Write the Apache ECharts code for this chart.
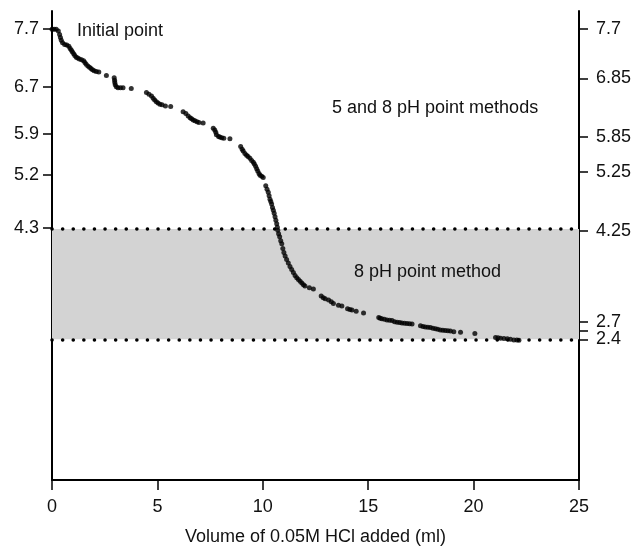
<!DOCTYPE html>
<html>
<head>
<meta charset="utf-8">
<script src="https://cdn.jsdelivr.net/npm/echarts@6/dist/echarts.min.js"></script>
<style>
html,body{margin:0;padding:0;background:#fff;}
#chart{width:635px;height:551px;}
</style>
</head>
<body>
<div id="chart"></div>
<script>
// Volume of 0.05M HCl added (ml)
const volume = [
  0.0, 0.1, 0.2, 0.3, 0.36, 0.4, 0.44, 0.5, 0.6, 0.7, 0.8, 0.86, 0.92, 0.97, 1.03, 1.08, 1.15, 1.22, 1.3, 1.4,
  1.5, 1.56, 1.62, 1.7, 1.78, 1.85, 1.92, 2.0, 2.1, 2.22, 2.58, 2.95, 2.97, 2.98, 3.0, 3.05, 3.13, 3.25, 3.37, 3.76,
  4.48, 4.6, 4.72, 4.8, 4.87, 4.95, 5.03, 5.12, 5.22, 5.38, 5.63,
  6.22, 6.35, 6.46, 6.55, 6.62, 6.7, 6.78, 6.88, 6.97, 7.17,
  7.65, 7.72, 7.77, 7.8, 7.9, 7.96, 8.05, 8.15, 8.44,
  8.95, 9.02, 9.07, 9.15, 9.23, 9.3, 9.39, 9.47, 9.55, 9.6, 9.66, 9.71, 9.76, 9.82, 9.87, 9.95, 10.02,
  10.14, 10.2, 10.26, 10.3, 10.34, 10.38, 10.42, 10.46, 10.5, 10.54, 10.58, 10.62, 10.66, 10.69, 10.71, 10.75,
  10.8, 10.85, 10.9, 10.95, 11.0, 11.06, 11.13, 11.21, 11.29, 11.37, 11.45, 11.53, 11.61, 11.69, 11.77, 11.85,
  11.93, 12.0, 12.21, 12.4, 12.77, 12.87, 12.96, 13.12, 13.25, 13.35, 13.59, 13.75, 14.02, 14.13, 14.23, 14.43,
  14.78, 15.5, 15.57, 15.65, 15.77, 15.89, 16.01, 16.13, 16.25, 16.37, 16.49, 16.6, 16.72, 16.84, 16.96, 17.08,
  17.48, 17.6, 17.71, 17.83, 17.95, 18.07, 18.19, 18.3, 18.42, 18.54, 18.66, 18.78, 18.9, 19.06, 19.38, 20.06,
  21.04, 21.16, 21.28, 21.44, 21.6, 21.75, 21.91, 22.05, 22.15
];
// pH
const pH = [
  7.69, 7.69, 7.69, 7.66, 7.6, 7.55, 7.5, 7.46, 7.43, 7.42, 7.4, 7.36, 7.33, 7.3, 7.27, 7.24, 7.21, 7.2, 7.18, 7.17,
  7.15, 7.12, 7.09, 7.06, 7.04, 7.02, 7.0, 6.98, 6.97, 6.96, 6.9, 6.86, 6.82, 6.78, 6.74, 6.71, 6.69, 6.69, 6.69, 6.68,
  6.61, 6.58, 6.55, 6.51, 6.48, 6.45, 6.43, 6.41, 6.4, 6.38, 6.37,
  6.28, 6.25, 6.21, 6.18, 6.16, 6.14, 6.13, 6.11, 6.1, 6.09,
  6.0, 5.97, 5.93, 5.89, 5.86, 5.85, 5.84, 5.83, 5.82,
  5.69, 5.64, 5.61, 5.57, 5.54, 5.52, 5.49, 5.45, 5.42, 5.39, 5.35, 5.31, 5.27, 5.23, 5.2, 5.18, 5.16,
  5.02, 4.96, 4.91, 4.85, 4.79, 4.75, 4.71, 4.65, 4.6, 4.55, 4.49, 4.43, 4.37, 4.31, 4.26, 4.2,
  4.15, 4.08, 4.03, 3.95, 3.88, 3.82, 3.76, 3.7, 3.64, 3.59, 3.54, 3.49, 3.45, 3.42, 3.39, 3.36,
  3.33, 3.31, 3.28, 3.26, 3.14, 3.11, 3.09, 3.07, 3.04, 3.01, 2.98, 2.97, 2.92, 2.91, 2.9, 2.88,
  2.85, 2.77, 2.76, 2.75, 2.74, 2.73, 2.725, 2.72, 2.7, 2.69, 2.685, 2.68, 2.675, 2.67, 2.665, 2.66,
  2.63, 2.62, 2.61, 2.605, 2.6, 2.59, 2.58, 2.57, 2.56, 2.555, 2.55, 2.545, 2.54, 2.53, 2.52, 2.5,
  2.43, 2.425, 2.42, 2.415, 2.41, 2.4, 2.39, 2.39, 2.385
];
const leftTicks = [7.7, 6.7, 5.9, 5.2, 4.3];
const rightTickMarks = [7.7, 6.85, 5.85, 5.25, 4.25, 2.7, 2.55, 2.4];
const rightTickLabels = [7.7, 6.85, 5.85, 5.25, 4.25, 2.4];
const rightExtraLabels = [2.7];
const bandLimits = [2.4, 4.28];
const annotations = ['Initial point', '5 and 8 pH point methods', '8 pH point method'];
const xTitle = 'Volume of 0.05M HCl added (ml)';

const FONT = 'Liberation Sans, Arial, sans-serif';
const chart = echarts.init(document.getElementById('chart'), null, {renderer: 'canvas'});
const points = volume.map((v, i) => [v, pH[i]]);
const axisCommon = {
  type: 'value', min: 0, max: 8,
  splitLine: {show: false},
  axisLine: {show: true, onZero: false, lineStyle: {color: '#000', width: 2}},
  axisTick: {show: true, length: 9, lineStyle: {color: '#000', width: 1.5}}
};
const labelCommon = {fontFamily: FONT, fontSize: 18, color: '#111', hideOverlap: false, showMinLabel: true, showMaxLabel: true};
chart.setOption({
  animation: false,
  backgroundColor: '#fff',
  grid: {left: 52, right: 56, top: 11, bottom: 65},
  xAxis: {
    type: 'value', min: 0, max: 25, interval: 5,
    name: xTitle, nameLocation: 'middle', nameGap: 48,
    nameTextStyle: {fontFamily: FONT, fontSize: 18, color: '#111'},
    splitLine: {show: false},
    axisLine: {lineStyle: {color: '#000', width: 2}},
    axisTick: {length: 10, lineStyle: {color: '#000', width: 1.5}},
    axisLabel: {fontFamily: FONT, fontSize: 18, color: '#111', margin: 18}
  },
  yAxis: [
    Object.assign({}, axisCommon, {
      position: 'left',
      axisTick: Object.assign({}, axisCommon.axisTick, {customValues: leftTicks}),
      axisLabel: Object.assign({}, labelCommon, {margin: 13, customValues: leftTicks})
    }),
    Object.assign({}, axisCommon, {
      position: 'right',
      axisTick: Object.assign({}, axisCommon.axisTick, {customValues: rightTickMarks}),
      axisLabel: Object.assign({}, labelCommon, {margin: 17, customValues: rightTickLabels})
    }),
    Object.assign({}, axisCommon, {
      position: 'right',
      axisLine: {show: false, onZero: false},
      axisTick: {show: false},
      axisLabel: Object.assign({}, labelCommon, {margin: 17, customValues: rightExtraLabels})
    })
  ],
  series: [
    {
      type: 'line', data: [], z: 1, silent: true,
      markArea: {
        silent: true,
        itemStyle: {color: '#d3d3d3'},
        data: [[{yAxis: bandLimits[0]}, {yAxis: bandLimits[1]}]]
      },
      markLine: {
        silent: true, symbol: ['none', 'none'],
        label: {show: false},
        lineStyle: {color: '#000', width: 3.5, type: [0.1, 10.5], cap: 'round'},
        data: [{yAxis: bandLimits[1]}, {yAxis: bandLimits[0]}]
      }
    },
    {
      type: 'scatter', data: points, z: 5,
      symbol: 'circle', symbolSize: 5,
      itemStyle: {color: '#000'}
    }
  ],
  graphic: [
    {type: 'text', z: 100, left: 77, top: 22, style: {text: annotations[0], font: '18px ' + FONT, fill: '#111'}},
    {type: 'text', z: 100, left: 332, top: 99, style: {text: annotations[1], font: '18px ' + FONT, fill: '#111'}},
    {type: 'text', z: 100, left: 354, top: 263, style: {text: annotations[2], font: '18px ' + FONT, fill: '#111'}}
  ]
});
</script>
</body>
</html>
